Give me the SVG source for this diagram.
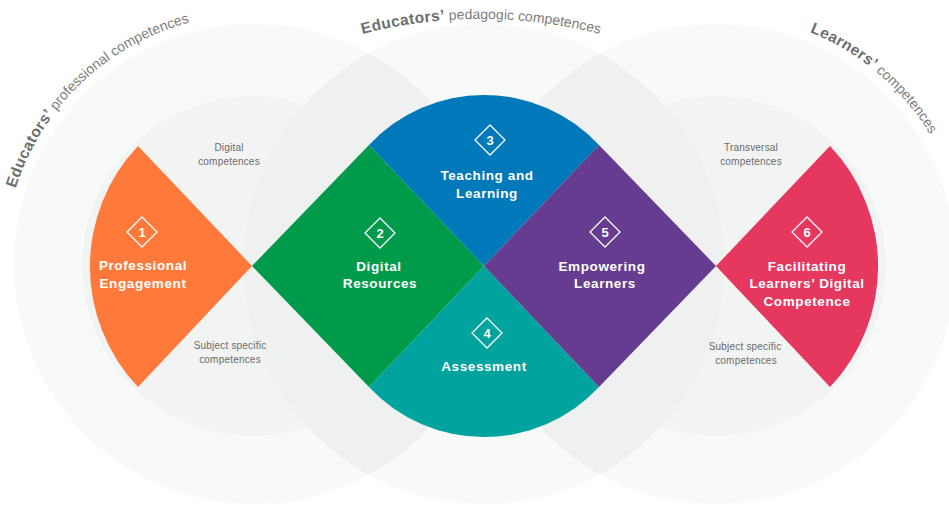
<svg xmlns="http://www.w3.org/2000/svg" xmlns:xlink="http://www.w3.org/1999/xlink" width="949" height="513" viewBox="0 0 949 513">
<defs>
<style>
.outer{fill:#f8f9f9}
.inner{fill:#f2f3f3}
.lens{fill:#eff0f0}
.dia{fill:none;stroke:#fff;stroke-width:1.3}
.num{font-family:"Liberation Sans",Arial,sans-serif;font-weight:bold;font-size:13px;fill:#fff;text-anchor:middle}
.lbl{font-family:"Liberation Sans",Arial,sans-serif;font-weight:bold;font-size:13.5px;letter-spacing:0.6px;fill:#fff;text-anchor:middle}
.sub{font-family:"Liberation Sans",Arial,sans-serif;font-size:10px;letter-spacing:0.2px;fill:#6a6a6a;text-anchor:middle}
.arc{font-family:"Liberation Sans",Arial,sans-serif;font-size:14px;fill:#7d7d7d}
.arc .b{font-weight:bold;fill:#6d6e70;font-size:15.5px;letter-spacing:0.4px}
</style>
<clipPath id="clipL"><circle cx="254" cy="264" r="240"/></clipPath>
<clipPath id="clipR"><circle cx="716" cy="264" r="240"/></clipPath>
<path id="pathL" d="M34.7,384.1 A250,250 0 0 1 383.9,50.4"/>
<path id="pathM" d="M241,83.3 A480,480 0 0 1 721,83.3"/>
<path id="pathR" d="M574,58.2 A250,250 0 0 1 941.9,371.2"/>
<path id="dia" class="dia" d="M0,-15 L15,0 L0,15 L-15,0 Z"/>
</defs>
<rect width="949" height="513" fill="#ffffff"/>
<g id="background">
<circle class="outer" cx="254" cy="264" r="240"/>
<circle class="outer" cx="484" cy="264" r="240"/>
<circle class="outer" cx="716" cy="264" r="240"/>
<circle class="inner" cx="252" cy="266" r="170"/>
<circle class="inner" cx="716" cy="266" r="170"/>
<circle class="lens" cx="484" cy="264" r="240" clip-path="url(#clipL)"/>
<circle class="lens" cx="484" cy="264" r="240" clip-path="url(#clipR)"/>
</g>
<g id="arc-titles">
<text class="arc"><textPath xlink:href="#pathL" href="#pathL" startOffset="50%" text-anchor="middle"><tspan class="b">Educators’</tspan> professional competences</textPath></text>
<text class="arc"><textPath xlink:href="#pathM" href="#pathM" startOffset="50%" text-anchor="middle"><tspan class="b">Educators’</tspan> pedagogic competences</textPath></text>
<text class="arc"><textPath xlink:href="#pathR" href="#pathR" startOffset="50%" text-anchor="middle"><tspan class="b">Learners’</tspan> competences</textPath></text>
</g>
<g id="sub-labels">
<text class="sub" x="229" y="151">Digital</text>
<text class="sub" x="229" y="165">competences</text>
<text class="sub" x="230" y="349">Subject specific</text>
<text class="sub" x="230" y="363">competences</text>
<text class="sub" x="751" y="151">Transversal</text>
<text class="sub" x="751" y="165">competences</text>
<text class="sub" x="745" y="350">Subject specific</text>
<text class="sub" x="746" y="364">competences</text>
</g>
<g id="node1">
<path fill="#ff7a3a" d="M252,266 L138,146 A175,175 0 0 0 138,387 Z"/>
<use href="#dia" xlink:href="#dia" x="142" y="232"/>
<text class="num" x="142" y="236.5">1</text>
<text class="lbl" x="143" y="270">Professional</text>
<text class="lbl" x="143" y="288">Engagement</text>
</g>
<g id="node2">
<path fill="#009b4a" d="M252,266 L369,145 L484,266 L369,387 Z"/>
<use href="#dia" xlink:href="#dia" x="380" y="233"/>
<text class="num" x="380" y="237.5">2</text>
<text class="lbl" x="379" y="271">Digital</text>
<text class="lbl" x="380" y="288">Resources</text>
</g>
<g id="node3">
<path fill="#0079bb" d="M369,145 L484,266 L599,145 A157,157 0 0 0 369,145 Z"/>
<use href="#dia" xlink:href="#dia" x="490" y="140"/>
<text class="num" x="490" y="144.5">3</text>
<text class="lbl" x="487" y="180">Teaching and</text>
<text class="lbl" x="487" y="198">Learning</text>
</g>
<g id="node4">
<path fill="#00a39e" d="M369,387 L484,266 L599,387 A157,157 0 0 1 369,387 Z"/>
<use href="#dia" xlink:href="#dia" x="487" y="333"/>
<text class="num" x="487" y="337.5">4</text>
<text class="lbl" x="484" y="371">Assessment</text>
</g>
<g id="node5">
<path fill="#653c8f" d="M484,266 L599,145 L716,266 L599,387 Z"/>
<use href="#dia" xlink:href="#dia" x="605" y="232"/>
<text class="num" x="605" y="236.5">5</text>
<text class="lbl" x="602" y="271">Empowering</text>
<text class="lbl" x="605" y="288">Learners</text>
</g>
<g id="node6">
<path fill="#e6375f" d="M716,266 L830,146 A175,175 0 0 1 830,387 Z"/>
<use href="#dia" xlink:href="#dia" x="807" y="232"/>
<text class="num" x="807" y="236.5">6</text>
<text class="lbl" x="807" y="271">Facilitating</text>
<text class="lbl" x="807" y="288">Learners’ Digital</text>
<text class="lbl" x="807" y="306">Competence</text>
</g>
<g id="connectors"/>
</svg>
